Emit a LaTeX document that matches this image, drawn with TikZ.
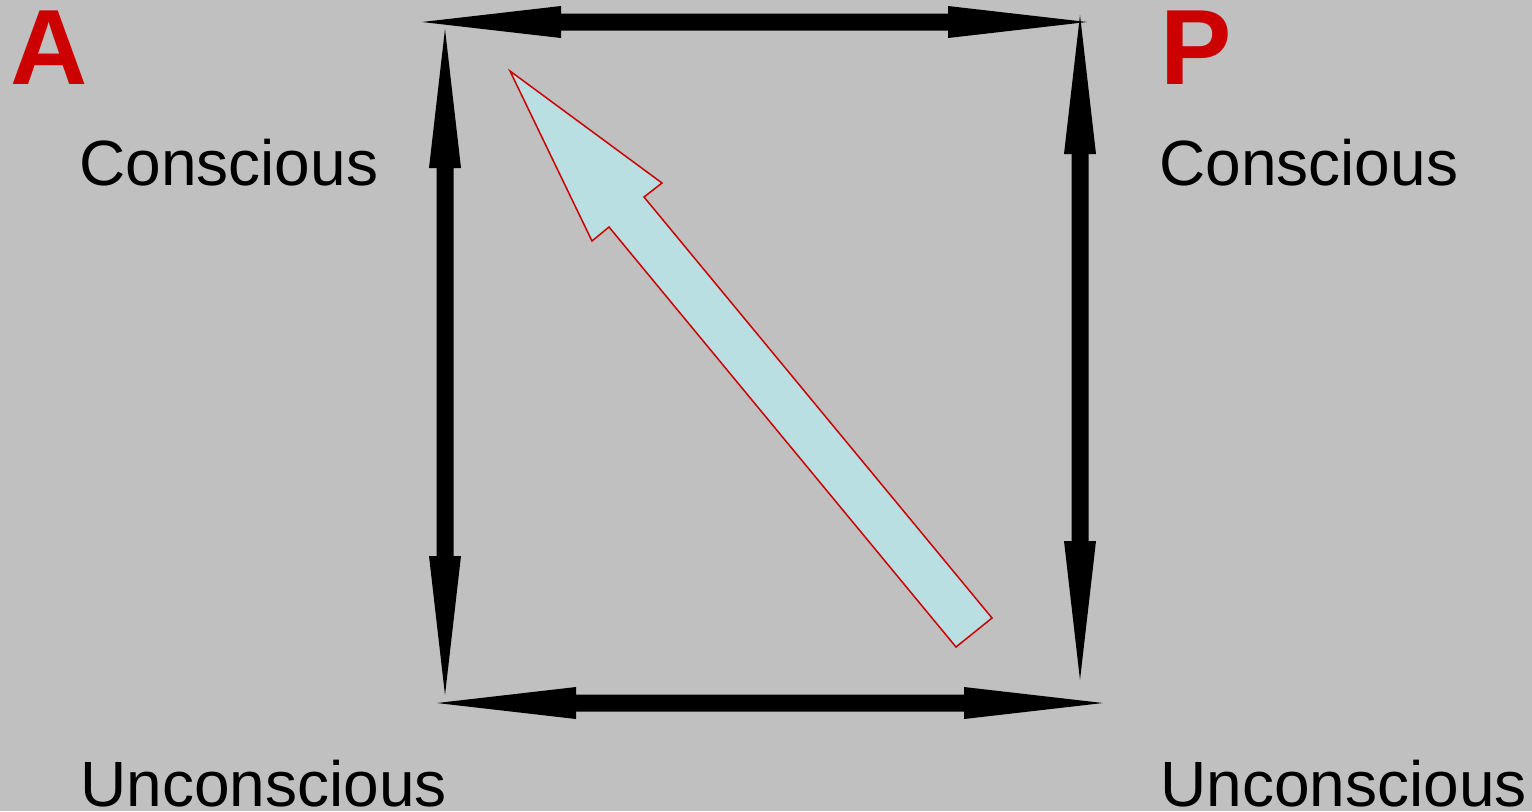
\documentclass[tikz,border=0pt]{standalone}
\usepackage{fontspec}
\setmainfont{Liberation Sans}
\definecolor{bggray}{HTML}{C0C0C0}
\definecolor{lcyan}{HTML}{B9DFE3}
\definecolor{dred}{HTML}{CC0000}
\tikzset{
  arrowfill/.style={fill=black},
  bigarrow/.style={fill=lcyan, draw=dred, line width=0.75pt, line join=miter},
  label/.style={inner sep=0pt, anchor=base west, font=\fontsize{32pt}{38pt}\selectfont},
  letter/.style={inner sep=0pt, anchor=base west, text=dred, font=\fontsize{53.5pt}{60pt}\selectfont\bfseries}
}
% horizontal double arrow: x1, x2, y
\newcommand{\myharrow}[3]{%
  \fill[arrowfill] (#1,#3) -- (#1+139,#3-16) -- (#1+139,#3-8.5) -- (#2-139,#3-8.5) -- (#2-139,#3-16) -- (#2,#3)
   -- (#2-139,#3+16) -- (#2-139,#3+8.5) -- (#1+139,#3+8.5) -- (#1+139,#3+16) -- cycle;}
% vertical double arrow: x, y1, y2
\newcommand{\myvarrow}[3]{%
  \fill[arrowfill] (#1,#2) -- (#1-16,#2+139) -- (#1-8.5,#2+139) -- (#1-8.5,#3-139) -- (#1-16,#3-139) -- (#1,#3)
   -- (#1+16,#3-139) -- (#1+8.5,#3-139) -- (#1+8.5,#2+139) -- (#1+16,#2+139) -- cycle;}
\begin{document}
\begin{tikzpicture}[x=0.5pt,y=-0.5pt]
  \fill[bggray] (0,0) rectangle (1532,811);
  \useasboundingbox (0,0) rectangle (1532,811);
  % letters
  \node[letter] (A) at (10,84) {A};
  \node[letter] (P) at (1160,84) {P};
  % labels
  \node[label] (lc) at (79,185) {Conscious};
  \node[label] (rc) at (1159,185) {Conscious};
  \node[label] (lu) at (80,806) {Unconscious};
  \node[label] (ru) at (1160,806) {Unconscious};
  % double arrows
  \myharrow{422}{1087}{22}
  \myharrow{437}{1103}{703}
  \myvarrow{445}{29}{695}
  \myvarrow{1080}{15}{680}
  % big diagonal arrow
  \draw[bigarrow] (510,71) -- (662,183) -- (644,197) -- (992,618) -- (956,647) -- (609,227) -- (592,241) -- cycle;
\end{tikzpicture}
\end{document}
